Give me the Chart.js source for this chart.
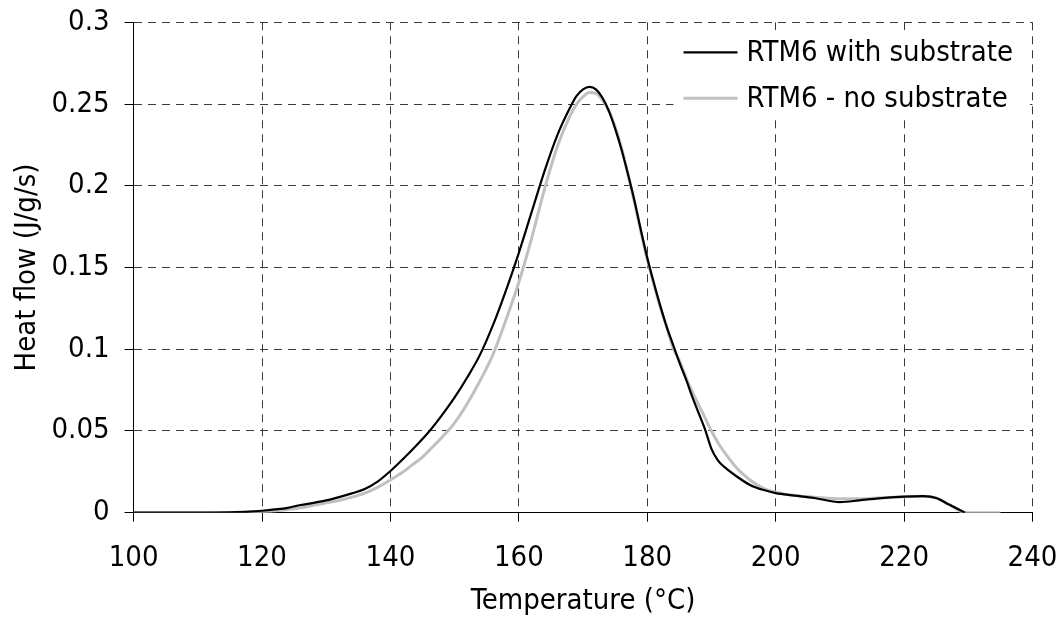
<!DOCTYPE html>
<html><head><meta charset="utf-8">
<script src="https://cdn.jsdelivr.net/npm/chart.js@4.4.1/dist/chart.umd.min.js"></script>
<style>html,body{margin:0;padding:0;background:#fff}</style>
</head><body>
<canvas id="c" width="1060" height="626"></canvas>
<script>
const FONT = '"DejaVu Sans Condensed","DejaVu Sans",sans-serif';

const seriesLabels = ['RTM6 with substrate', 'RTM6 - no substrate'];
const xTitle = 'Temperature (°C)';
const yTitle = 'Heat flow (J/g/s)';
const xTickValues = [100, 120, 140, 160, 180, 200, 220, 240];
const yTickValues = [0, 0.05, 0.1, 0.15, 0.2, 0.25, 0.3];

const tempWith = [100,105,110,115,118,120,122,124,126,128,130,132,134,136,138,140,142,144,146,148,150,152,154,156,158,160,162,164,166,168,169,170,171,172,173,174,175,176,177,178,179,180,181,182,183,184,185,186,187,188,189,190,191,192,194,196,198,200,203,206,210,213,216,220,223,225,227,229.5];
const heatWith = [0,0,0,0.0002,0.0006,0.0012,0.002,0.003,0.0047,0.006,0.0075,0.0095,0.0118,0.0145,0.019,0.0255,0.033,0.041,0.0495,0.0595,0.0705,0.083,0.097,0.115,0.136,0.159,0.184,0.209,0.231,0.248,0.255,0.259,0.2605,0.259,0.254,0.246,0.235,0.222,0.207,0.191,0.173,0.156,0.141,0.127,0.114,0.103,0.092,0.082,0.071,0.061,0.051,0.039,0.032,0.028,0.022,0.017,0.014,0.012,0.0105,0.009,0.0065,0.0075,0.0088,0.0098,0.0101,0.009,0.005,0];

const tempNo = [100,105,110,115,118,120,122,124,126,128,130,132,134,136,138,140,142,143,144,145,146,148,150,152,154,156,158,160,162,164,166,168,169,170,171,172,173,174,175,176,177,178,179,180,181,182,183,184,185,186,187,188,189,190,191,192,194,196,198,200,203,206,210,213,216,220,223,225,227,229.5,235];
const heatNo = [0,0,0,0.0001,0.0003,0.0006,0.0012,0.002,0.003,0.0045,0.006,0.0075,0.0095,0.012,0.0155,0.020,0.025,0.028,0.031,0.034,0.038,0.046,0.055,0.067,0.081,0.097,0.118,0.141,0.168,0.198,0.224,0.243,0.250,0.2545,0.257,0.2565,0.2525,0.246,0.236,0.223,0.207,0.190,0.172,0.155,0.140,0.126,0.114,0.101,0.093,0.083,0.074,0.066,0.058,0.050,0.043,0.037,0.027,0.020,0.015,0.0125,0.0105,0.0095,0.0085,0.0085,0.009,0.0098,0.010,0.009,0.005,0,0];

const toPoints = (xs, ys) => xs.map((x, i) => ({x: x, y: ys[i]}));

const insideLegend = {
  id: 'insideLegend',
  afterDatasetsDraw(chart) {
    const ctx = chart.ctx;
    const ca = chart.chartArea;
    const ds = chart.data.datasets;
    const textLeft = ca.right - 286;
    const boxL = textLeft - 73, boxR = ca.right - 6;
    const boxT = ca.top + 8, boxB = ca.top + 96;
    ctx.save();
    ctx.fillStyle = '#ffffff';
    ctx.fillRect(boxL, boxT, boxR - boxL, boxB - boxT);
    ctx.font = '29px ' + FONT;
    ctx.textBaseline = 'middle';
    ctx.textAlign = 'left';
    ds.forEach((d, i) => {
      const yy = ca.top + 30 + i * 46;
      ctx.strokeStyle = d.borderColor;
      ctx.lineWidth = d.borderWidth;
      ctx.beginPath();
      ctx.moveTo(textLeft - 63, yy);
      ctx.lineTo(textLeft - 9, yy);
      ctx.stroke();
      ctx.fillStyle = '#000';
      ctx.fillText(d.label, textLeft, yy + 1);
    });
    ctx.restore();
  }
};

new Chart(document.getElementById('c'), {
  type: 'scatter',
  data: {
    datasets: [
      {label: seriesLabels[0], data: toPoints(tempWith, heatWith), showLine: true, borderColor: '#000000', borderWidth: 2.2, pointRadius: 0, cubicInterpolationMode: 'monotone'},
      {label: seriesLabels[1], data: toPoints(tempNo, heatNo), showLine: true, borderColor: '#c0c0c0', borderWidth: 3, pointRadius: 0, cubicInterpolationMode: 'monotone'}
    ]
  },
  options: {
    responsive: false,
    animation: false,
    events: [],
    layout: {padding: {left: 0, right: 27.5, top: 22.3, bottom: 0}},
    plugins: {legend: {display: false}, tooltip: {enabled: false}},
    scales: {
      x: {
        type: 'linear', min: 100, max: 240,
        afterBuildTicks: (s) => { s.ticks = xTickValues.map(v => ({value: v})); },
        afterFit: (s) => { s.height = 113.3; s.paddingLeft = 0; s.paddingRight = 0; },
        grid: {color: (c) => c.index === 0 ? 'rgba(0,0,0,0)' : '#3a3a3a', lineWidth: 1, tickColor: '#000', tickLength: 9, drawTicks: true},
        border: {display: true, color: '#000', width: 1, dash: [8, 6]},
        ticks: {color: '#000', font: {family: FONT, size: 29}, padding: 19, maxRotation: 0, callback: (v) => String(v)},
        title: {display: true, text: xTitle, color: '#000', font: {family: FONT, size: 29}, padding: {top: 0, bottom: 7}}
      },
      y: {
        type: 'linear', min: 0, max: 0.3,
        afterBuildTicks: (s) => { s.ticks = yTickValues.map(v => ({value: v})); },
        afterFit: (s) => { s.width = 133.6; s.paddingTop = 0; s.paddingBottom = 0; },
        grid: {color: (c) => c.index === 0 ? 'rgba(0,0,0,0)' : '#3a3a3a', lineWidth: 1, tickColor: '#000', tickLength: 9, drawTicks: true},
        border: {display: true, color: '#000', width: 1, dash: [8, 6]},
        ticks: {color: '#000', font: {family: FONT, size: 29}, padding: 15, callback: (v) => String(v)},
        title: {display: true, text: yTitle, color: '#000', font: {family: FONT, size: 29}, padding: {top: 10, bottom: 0}}
      }
    }
  },
  plugins: [insideLegend]
});
</script>
</body></html>
